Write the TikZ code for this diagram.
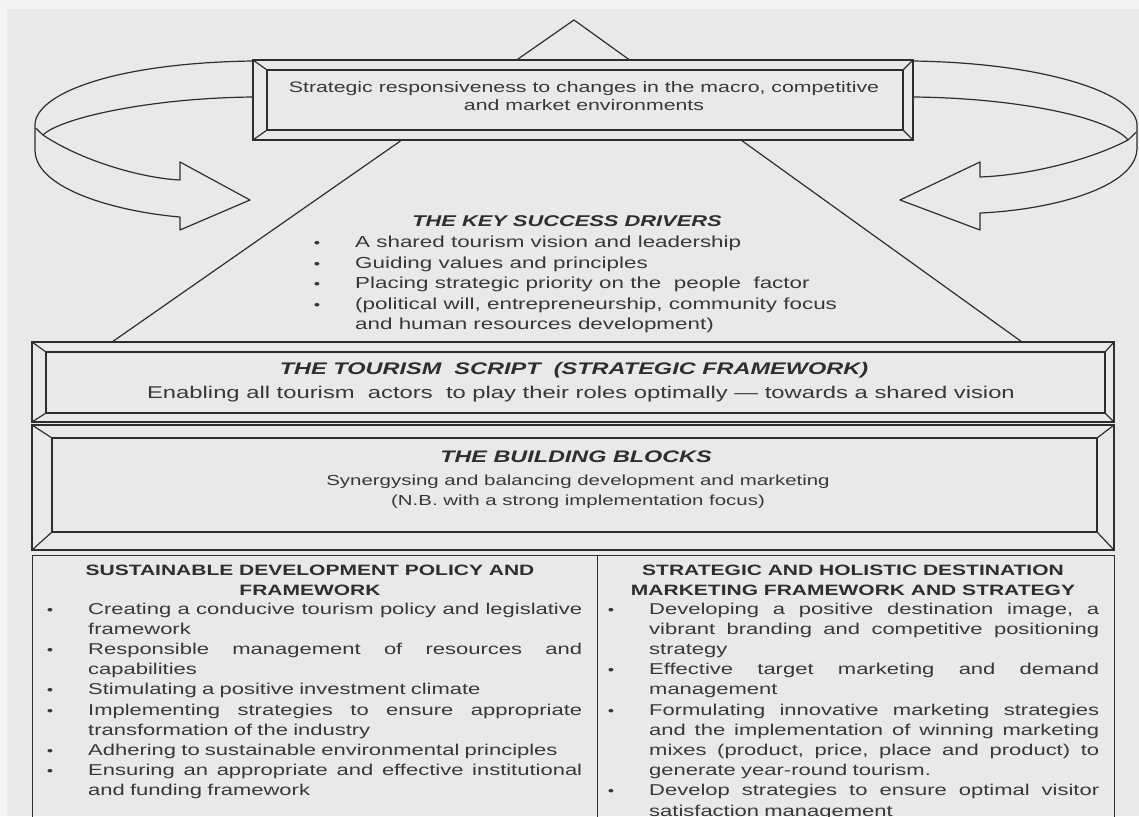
\documentclass[tikz,border=0pt]{standalone}
\usepackage{fontspec}
\setmainfont{Liberation Sans}[FakeStretch=1.4]
\definecolor{bg}{HTML}{E9E9E9}
\definecolor{strip}{HTML}{F4F4F4}
\definecolor{ink}{HTML}{2E2E2E}
\definecolor{txtc}{HTML}{383838}

% justified line of a given width (words joined by \s), last (ragged) line,
% bullet hung in the left margin
\newcommand\s{\hspace{4pt plus 1fill}}
\newcommand\jl[2]{\hbox to #1{#2}\par}
\newcommand\el[1]{\mbox{#1}\par}
\newcommand\bl{\llap{{\fontsize{13}{13}\selectfont •}\hspace{35pt}}}

% bevelled frame: outer x1 y1 x2 y2, inner x1 y1 x2 y2
\newcommand\bevelframe[8]{%
  \draw[frame,fill=bg] (#1,#2) rectangle (#3,#4);
  \draw[frame] (#5,#6) rectangle (#7,#8);
  \draw[frame] (#1,#2)--(#5,#6) (#3,#2)--(#7,#6) (#1,#4)--(#5,#8) (#3,#4)--(#7,#8);
}

\tikzset{
  frame/.style={draw=ink, line width=1.2pt, line join=miter},
  ribbon/.style={draw=ink, line width=1.2pt, fill=bg, line join=round},
  txt/.style={text=txtc, inner sep=0pt},
  head/.style={txt, text=ink, font=\fontsize{15}{20}\selectfont\bfseries, align=center},
  body/.style={txt, anchor=north west, font=\fontsize{15.7}{20.2}\selectfont},
}

\begin{document}
\begin{tikzpicture}[x=1pt,y=-1pt]
\clip (0,0) rectangle (1139,816);
\fill[strip] (0,0) rectangle (1139,816);
\fill[bg] (7,9) rectangle (1139,816);

% the pyramid
\coordinate (apex) at (574,20);
\coordinate (baseL) at (112,342);
\coordinate (baseR) at (1022,342);
\draw[frame] (baseL) -- (apex) -- (baseR);

% left feedback ribbon
\draw[ribbon] (253,61) .. controls (110,63) and (35,95) .. (35,125)
  -- (35,150) .. controls (35,190) and (120,212) .. (180,217)
  -- (180,230) -- (250,200) -- (180,162) -- (180,180)
  .. controls (140,178) and (80,160) .. (43,135)
  .. controls (60,118) and (150,98) .. (253,97) -- cycle;
\draw[frame] (43,135) -- (35.6,128);

% right feedback ribbon
\draw[ribbon] (913,61) .. controls (1050,63) and (1137,95) .. (1137,125)
  -- (1137,148) .. controls (1137,188) and (1050,210) .. (980,213)
  -- (980,230) -- (900,200) -- (980,162) -- (980,177)
  .. controls (1030,175) and (1090,160) .. (1128,140)
  .. controls (1110,118) and (1020,98) .. (913,97) -- cycle;
\draw[frame] (1128,140) -- (1136.4,132);

% framed bars
\bevelframe{253}{60}{913}{140}{267}{70}{903}{130}
\bevelframe{32}{342}{1114}{422}{46}{352}{1105}{413}
\bevelframe{32}{425}{1114}{550}{52}{438}{1097}{532}

% two-column table
\coordinate (tTL) at (32,555);
\coordinate (tTR) at (1114,555);
\coordinate (tTM) at (597,555);
\draw[frame, line width=1pt] (32,820) -- (tTL) -- (tTR) -- (1114,820);
\draw[frame, line width=1pt] (tTM) -- (597,820);

% texts
\node[txt, font=\fontsize{15.2}{18}\selectfont, align=center] (resp) at (584,96)
  {Strategic responsiveness to changes in the macro, competitive\\and market environments};

\node[txt, text=ink, font=\fontsize{15.6}{19}\selectfont\bfseries\itshape] (ksd) at (567,221)
  {THE KEY SUCCESS DRIVERS};
\node[txt, anchor=north west, align=left, font=\fontsize{16}{20.5}\selectfont] (ksdl) at (355,236)
  {\bl A shared tourism vision and leadership\\
   \bl Guiding values and principles\\
   \bl Placing strategic priority on the\ \ people\ \ factor\\
   \bl (political will, entrepreneurship, community focus\\
   and human resources development)};

\node[txt, text=ink, font=\fontsize{16.8}{21}\selectfont\bfseries\itshape] (tst) at (574,370)
  {THE TOURISM\ \ SCRIPT\ \ (STRATEGIC FRAMEWORK)};
\node[txt, font=\fontsize{17}{20}\selectfont] (tss) at (581,394)
  {Enabling all tourism\ \ actors\ \ to play their roles optimally — towards a shared vision};

\node[txt, text=ink, font=\fontsize{16.7}{21}\selectfont\bfseries\itshape] (bbt) at (576,457)
  {THE BUILDING BLOCKS};
\node[txt, align=center, font=\fontsize{14.6}{20}\selectfont] (bbs) at (578,492)
  {Synergysing and balancing development and marketing\\(N.B.\ with a strong implementation focus)};

\node[head] (lh) at (310,580) {SUSTAINABLE DEVELOPMENT POLICY AND\\FRAMEWORK};
\node[head] (rh) at (853,580) {STRATEGIC AND HOLISTIC DESTINATION\\MARKETING FRAMEWORK AND STRATEGY};

\node[body, text width=494pt] (lc) at (88,602.5) {%
  \jl{494pt}{\bl Creating\s a\s conducive\s tourism\s policy\s and\s legislative}
  \el{framework}
  \jl{494pt}{\bl Responsible\s management\s of\s resources\s and}
  \el{capabilities}
  \el{\bl Stimulating a positive investment climate}
  \jl{494pt}{\bl Implementing\s strategies\s to\s ensure\s appropriate}
  \el{transformation of the industry}
  \el{\bl Adhering to sustainable environmental principles}
  \jl{494pt}{\bl Ensuring\s an\s appropriate\s and\s effective\s institutional}
  \el{and funding framework}};

\node[body, text width=450pt] (rc) at (649,602.5) {%
  \jl{450pt}{\bl Developing\s a\s positive\s destination\s image,\s a}
  \jl{450pt}{vibrant\s branding\s and\s competitive\s positioning}
  \el{strategy}
  \jl{450pt}{\bl Effective\s target\s marketing\s and\s demand}
  \el{management}
  \jl{450pt}{\bl Formulating\s innovative\s marketing\s strategies}
  \jl{450pt}{and\s the\s implementation\s of\s winning\s marketing}
  \jl{450pt}{mixes\s (product,\s price,\s place\s and\s product)\s to}
  \el{generate year-round tourism.}
  \jl{450pt}{\bl Develop\s strategies\s to\s ensure\s optimal\s visitor}
  \el{satisfaction management}};
\end{tikzpicture}
\end{document}
